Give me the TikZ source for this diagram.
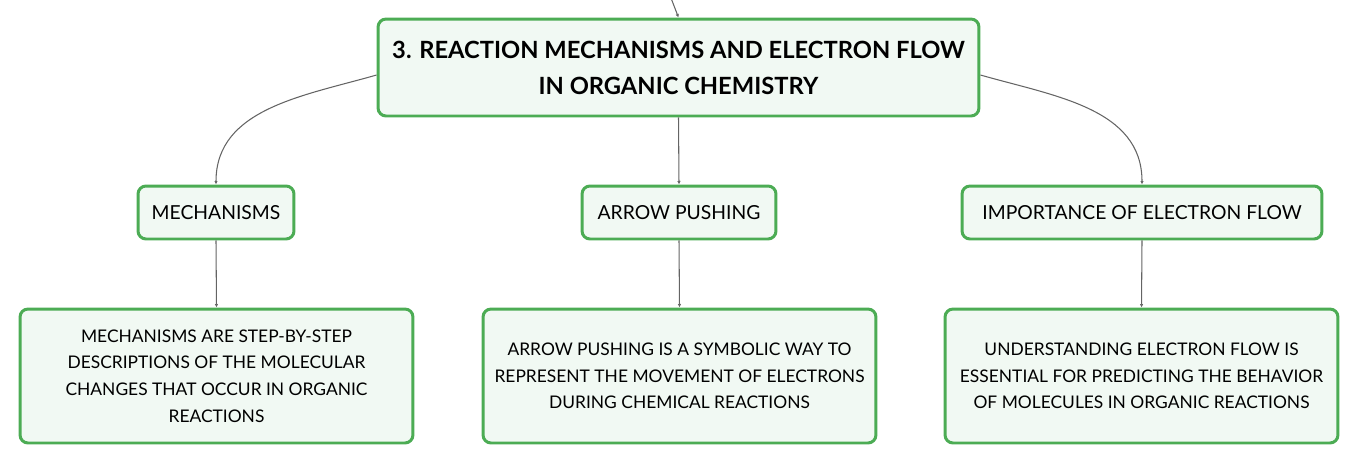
\documentclass[tikz,border=0pt]{standalone}
\usepackage{fontspec}
\setmainfont{Lato}
\usepackage{xcolor}
\usepackage{tikz}
\usetikzlibrary{arrows.meta}
\definecolor{boxgreen}{RGB}{76,172,84}
\definecolor{boxfill}{RGB}{241,249,243}
\definecolor{linkgray}{RGB}{100,100,100}
\tikzset{
	mainbox/.style={draw=boxgreen,line width=1.7pt,fill=boxfill,rounded corners=0.16cm,inner sep=0pt,align=center,minimum width=12.02cm,minimum height=1.94cm,font=\fontsize{13.5}{20.4}\selectfont\bfseries},
	subbox/.style={draw=boxgreen,line width=1.7pt,fill=boxfill,rounded corners=0.16cm,inner sep=0pt,align=center,minimum height=1.06cm,font=\fontsize{11}{15}\selectfont},
	notebox/.style={draw=boxgreen,line width=1.7pt,fill=boxfill,rounded corners=0.16cm,inner sep=0pt,align=center,minimum width=7.86cm,minimum height=2.68cm,font=\fontsize{9.9}{15.1}\selectfont},
	link/.style={draw=linkgray,line width=0.6pt,-{Latex[length=2pt,width=2pt]}}
}
\begin{document}
\begin{tikzpicture}[x=0.02cm,y=0.02cm]
	\useasboundingbox (0,0) rectangle (1359,-464);
	% main topic
	\node[mainbox] (root) at (678.5,-67.5) {3. REACTION MECHANISMS AND ELECTRON FLOW\\IN ORGANIC CHEMISTRY};
	\coordinate (parent) at (671,2);
	% subtopics
	\node[subbox,minimum width=3.12cm] (mech) at (216,-212.5) {MECHANISMS};
	\node[subbox,minimum width=3.88cm] (push) at (679,-212.5) {ARROW PUSHING};
	\node[subbox,minimum width=7.2cm] (flow) at (1142,-212.5) {IMPORTANCE OF ELECTRON FLOW};
	% notes
	\node[notebox] (mechnote) at (216.5,-376) {MECHANISMS ARE STEP-BY-STEP\\DESCRIPTIONS OF THE MOLECULAR\\CHANGES THAT OCCUR IN ORGANIC\\REACTIONS};
	\node[notebox] (pushnote) at (679.5,-376) {ARROW PUSHING IS A SYMBOLIC WAY TO\\REPRESENT THE MOVEMENT OF ELECTRONS\\DURING CHEMICAL REACTIONS};
	\node[notebox] (flownote) at (1141.5,-376) {UNDERSTANDING ELECTRON FLOW IS\\ESSENTIAL FOR PREDICTING THE BEHAVIOR\\OF MOLECULES IN ORGANIC REACTIONS};
	% connectors
	\draw[link] (parent) -- (root.north);
	\draw[link] ([yshift=-0.15cm]root.west) to[out=196,in=90] (mech.north);
	\draw[link] (root.south) -- (push.north);
	\draw[link] ([yshift=-0.15cm]root.east) to[out=-16,in=90] (flow.north);
	\draw[link] (mech.south) -- (mechnote.north);
	\draw[link] (push.south) -- (pushnote.north);
	\draw[link] (flow.south) -- (flownote.north);
\end{tikzpicture}
\end{document}
